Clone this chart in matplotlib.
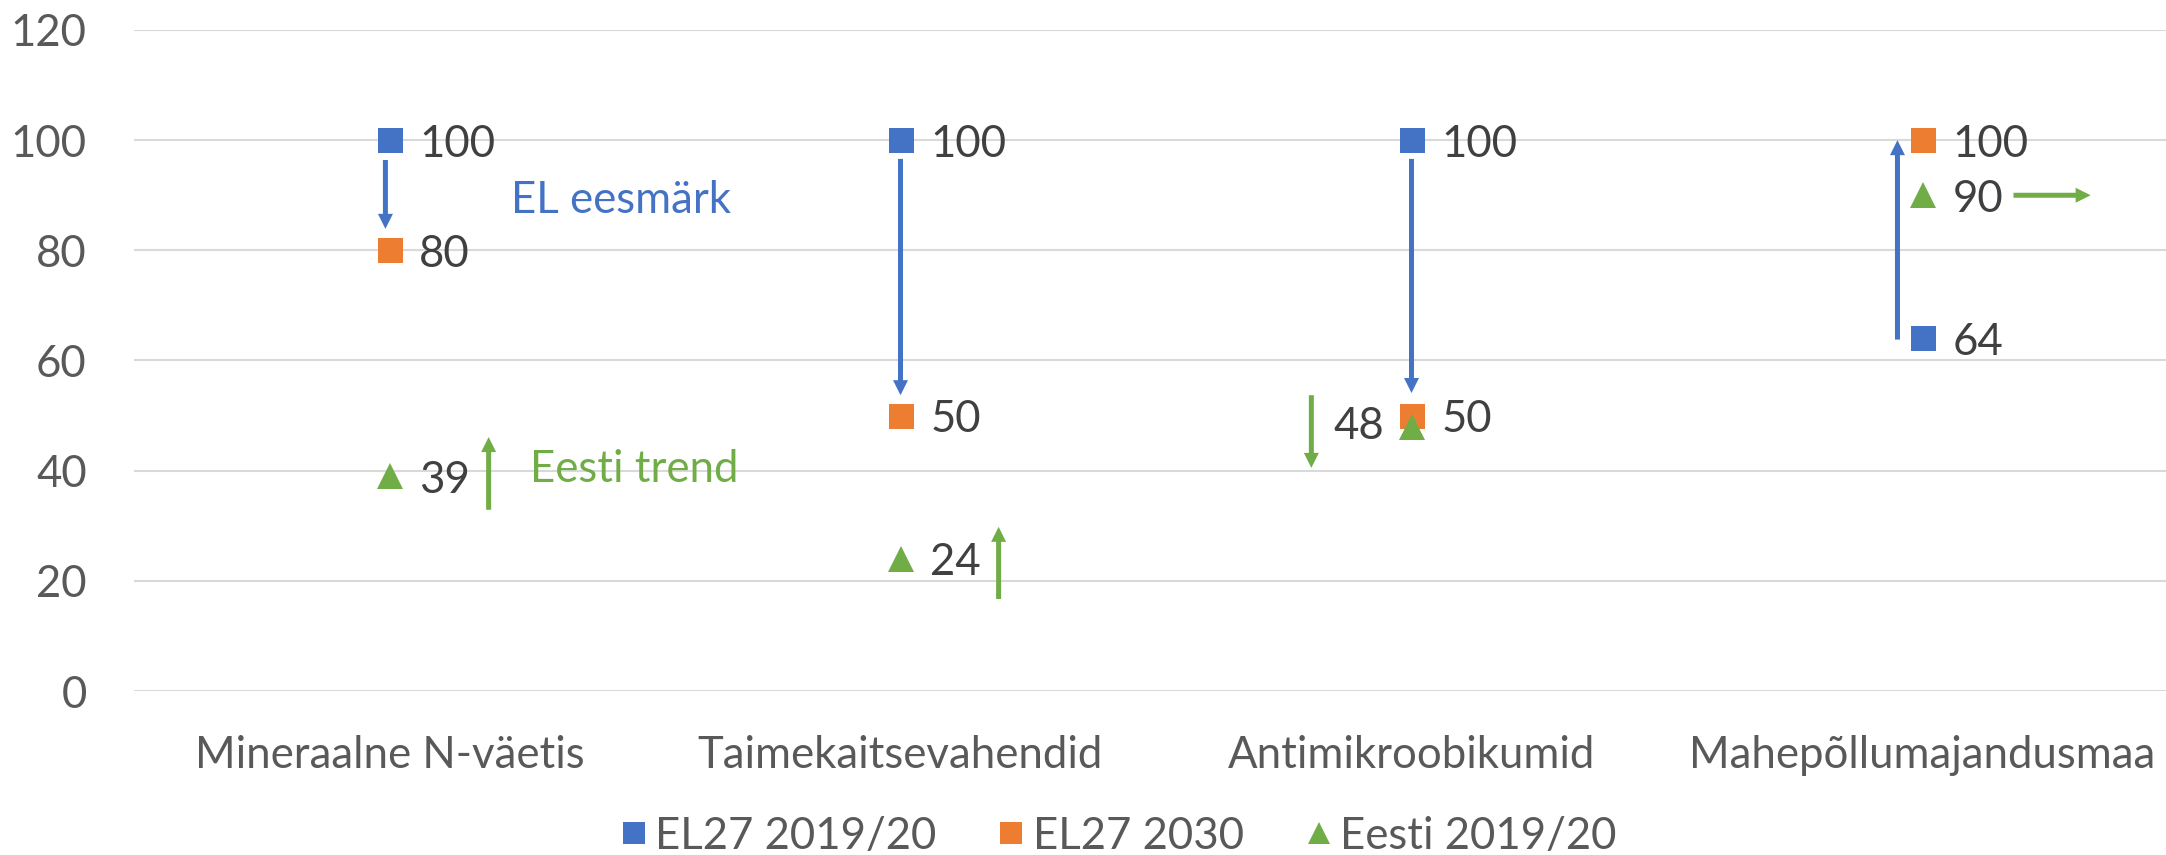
import matplotlib
matplotlib.use("Agg")
import matplotlib.pyplot as plt
from matplotlib.lines import Line2D

# ---------------- data ----------------
categories = ["Mineraalne N-väetis", "Taimekaitsevahendid", "Antimikroobikumid", "Mahepõllumajandusmaa"]
el27_2019 = [100, 100, 100, 64]
el27_2030 = [80, 50, 50, 100]
eesti_2019 = [39, 24, 48, 90]
series_names = ["EL27 2019/20", "EL27 2030", "Eesti 2019/20"]
yticks = [0, 20, 40, 60, 80, 100, 120]

# annotation arrows (x in category units, y in data units)
blue_arrows = [((-0.008, 96.4), (-0.008, 83.9)),
               ((1.0, 96.6), (1.0, 53.7)),
               ((2.0, 96.6), (2.0, 54.1)),
               ((2.951, 63.8), (2.951, 100.0))]
green_arrows = [((0.194, 32.9), (0.194, 46.1)),
                ((1.192, 16.7), (1.192, 29.8)),
                ((1.804, 53.7), (1.804, 40.5)),
                ((3.178, 90.0), (3.329, 90.0))]

BLUE = "#4472C4"
ORANGE = "#ED7D31"
GREEN = "#70AD47"
TICK_C = "#595959"
LABEL_C = "#404040"
GRID_C = "#D9D9D9"

plt.rcParams["font.family"] = ["Lato", "DejaVu Sans"]
FS = 31.5

W, H = 2166, 855
fig = plt.figure(figsize=(W / 100, H / 100), dpi=100)
ax = fig.add_axes([134 / W, (H - 691) / H, (2178 - 134) / W, (691 - 30) / H])

x = list(range(len(categories)))
ax.set_xlim(-0.5, len(categories) - 0.5)
ax.set_ylim(0, 120)
ax.set_yticks(yticks)
ax.set_xticks(x)
ax.set_xticklabels(categories)
ax.tick_params(axis="both", length=0, labelsize=FS, colors=TICK_C)
ax.tick_params(axis="x", pad=32)
ax.tick_params(axis="y", pad=34)
for s in ax.spines.values():
    s.set_visible(False)
ax.yaxis.grid(True, color=GRID_C, lw=1.5)
ax.set_axisbelow(True)

# arrows
def draw_arrow(start, end, color):
    ax.annotate("", xy=end, xytext=start,
                arrowprops=dict(width=3.6, headwidth=10.8, headlength=10.8,
                                shrink=0, lw=0, color=color), zorder=2)

for s, e in blue_arrows:
    draw_arrow(s, e, BLUE)
for s, e in green_arrows:
    draw_arrow(s, e, GREEN)

# markers
ax.plot(x, el27_2019, ls="none", marker="s", ms=18, mew=0, color=BLUE, zorder=3, label=series_names[0])
ax.plot(x, el27_2030, ls="none", marker="s", ms=18, mew=0, color=ORANGE, zorder=4, label=series_names[1])
ax.plot(x, eesti_2019, ls="none", marker="^", ms=18.5, mew=0, color=GREEN, zorder=5, label=series_names[2])

# data labels
left_labels = {("eesti", 2)}
for key, vals in (("el2019", el27_2019), ("el2030", el27_2030), ("eesti", eesti_2019)):
    for i, v in enumerate(vals):
        if (key, i) in left_labels:
            ax.annotate(f"{v}", (i, v), xytext=(-20, 0), textcoords="offset points",
                        ha="right", va="center", fontsize=FS, color=LABEL_C, zorder=6)
        else:
            ax.annotate(f"{v}", (i, v), xytext=(21.5, -3), textcoords="offset points",
                        ha="left", va="center", fontsize=FS, color=LABEL_C, zorder=6)

ax.text(0.237, 89.1, "EL eesmärk", color=BLUE, fontsize=FS, ha="left", va="center")
ax.text(0.274, 40.2, "Eesti trend", color=GREEN, fontsize=FS, ha="left", va="center")

handles = [Line2D([], [], ls="none", marker="s", ms=16, mew=0, color=BLUE),
           Line2D([], [], ls="none", marker="s", ms=16, mew=0, color=ORANGE),
           Line2D([], [], ls="none", marker="^", ms=16, mew=0, color=GREEN)]
leg = fig.legend(handles, series_names, loc="center", bbox_to_anchor=(0.5165, 0.022),
                 ncol=3, frameon=False, fontsize=FS, handlelength=0.6, handletextpad=0.2,
                 columnspacing=1.4, borderpad=0, borderaxespad=0)
for t in leg.get_texts():
    t.set_color(TICK_C)

fig.savefig("out.png", dpi=100)
